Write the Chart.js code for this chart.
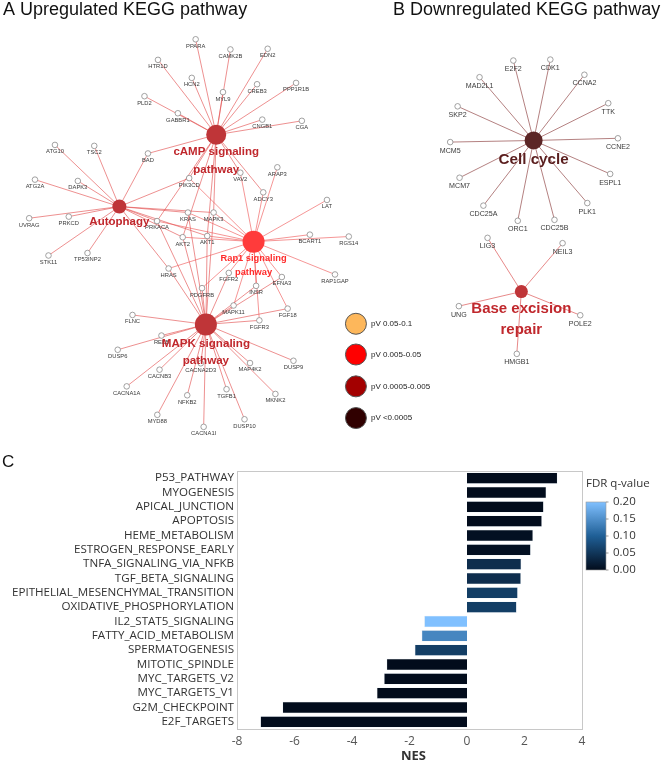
<!DOCTYPE html>
<html>
<head>
<meta charset="utf-8">
<script src="https://cdn.jsdelivr.net/npm/chart.js@4.4.1/dist/chart.umd.min.js"></script>
<style>
  body { margin: 0; background: #fff; }
  #wrap { position: relative; width: 669px; height: 762px; }
  #netCanvas { position: absolute; left: 0; top: 0; }
  #barCanvas { position: absolute; left: 0; top: 445px; }
</style>
</head>
<body>
<div id="wrap">
  <canvas id="netCanvas" width="669" height="445"></canvas>
  <canvas id="barCanvas" width="669" height="317"></canvas>
</div>
<script>
// ---- network layout (panel A, upregulated) ----
const upGenes = ['PPARA','CAMK2B','EDN2','HTR1D','HCN2','MYL9','CREB3','PPP1R1B','PLD2','GABBR1','CNGB1','CGA',
  'ATG10','TSC2','BAD','ARAP3','VAV2','ATG2A','DAPK3','PIK3CD','ADCY3','LAT','KRAS','MAPK3','UVRAG','PRKCD','PRKACA',
  'AKT2','AKT1','BCART1','RGS14','STK11','TP53INP2','HRAS','FGFR2','EFNA3','RAP1GAP','PDGFRB','INSR',
  'MAPK11','FGF18','FGFR3','FLNC','RELB','DUSP6','CACNB3','CACNA2D3','MAP4K2','DUSP9','CACNA1A','NFKB2','TGFB1',
  'MKNK2','MYD88','DUSP10','CACNA1I'];
const upX = [190.7,226.7,265.3,151.7,186.7,219,254.3,294.7,137.7,172.3,259.7,300.7,
  45,85.7,141.3,275.3,237,24.3,68.7,184,260.7,326.7,182.7,209.3,18.3,59.3,150.7,
  177.3,202.7,309,349.3,38.3,78.7,162.7,225,280,335,197.3,253.3,
  230,286,256.7,125.3,155.3,110,153.3,196,247,292,119.3,182,222.7,
  273.3,151,241.3,199];
const upY = [29.3,40,39.3,51,70,85,76.7,75.3,89.3,107.3,114,115.3,
  140.7,141.7,149.7,164.3,170,177.3,178.7,175.7,190.7,198.7,212,212,218,216.3,221,
  238,236.7,235.3,237.3,257.3,254.7,271,275.7,280,277.3,291.7,289.3,
  310,313.3,325.7,320,341.7,356.7,377.7,371,370.7,368.3,395.3,404.7,398.3,
  403.3,425.3,430,438];

// ---- network layout (panel B, downregulated) ----
const downGenes = ['E2F2','CDK1','MAD2L1','CCNA2','SKP2','TTK','MCM5','CCNE2','MCM7','ESPL1','CDC25A','PLK1','ORC1','CDC25B',
  'LIG3','NEIL3','UNG','POLE2','HMGB1'];
const downX = [519.7,558,484.7,593.3,462,618,454.3,628,464,620,488.7,596.3,524.3,562.3,
  493,570.7,463.3,589,523.3];
const downY = [51.7,50.7,69.3,66.7,100,96.7,137.7,133.7,175.3,171.3,204.7,202,220.7,219.7,
  238.7,244.3,310.7,320.3,361];

// ---- pathway hubs ----
const hubNames = ['cAMP signaling|pathway','Autophagy','Rap1 signaling|pathway','MAPK signaling|pathway','Cell cycle','Base excision|repair'];
const hubX = [212, 111.7, 250.7, 201.3, 540.7, 528];
const hubY = [130, 205.7, 242.7, 330, 136, 295.3];
const hubPvalueClass = [2, 2, 1, 2, 3, 2];
const hubMembers = [
  ['PPARA','CAMK2B','EDN2','HTR1D','HCN2','MYL9','CREB3','PPP1R1B','PLD2','GABBR1','CNGB1','CGA','BAD','VAV2','ADCY3','PIK3CD','MAPK3','AKT1','AKT2','PRKACA'],
  ['ATG10','TSC2','BAD','ATG2A','DAPK3','UVRAG','PRKCD','STK11','TP53INP2','PIK3CD','KRAS','MAPK3','PRKACA','AKT1','AKT2','HRAS'],
  ['LAT','BCART1','RGS14','RAP1GAP','EFNA3','INSR','FGFR2','FGFR3','FGF18','PDGFRB','HRAS','KRAS','AKT1','AKT2','MAPK3','MAPK11','PIK3CD','ADCY3','VAV2','ARAP3','PRKACA'],
  ['FLNC','RELB','DUSP6','CACNB3','CACNA2D3','MAP4K2','DUSP9','CACNA1A','NFKB2','TGFB1','MKNK2','MYD88','DUSP10','CACNA1I','MAPK11','FGF18','FGFR3','FGFR2','INSR','EFNA3','PDGFRB','HRAS','KRAS','MAPK3','AKT1','AKT2','PRKACA'],
  ['E2F2','CDK1','MAD2L1','CCNA2','SKP2','TTK','MCM5','CCNE2','MCM7','ESPL1','CDC25A','PLK1','ORC1','CDC25B'],
  ['LIG3','NEIL3','UNG','POLE2','HMGB1']
];

// ---- p-value legend ----
const pvLabels = ['pV 0.05-0.1', 'pV 0.005-0.05', 'pV 0.0005-0.005', 'pV <0.0005'];
const pvColors = ['#fdb75b', '#ff0000', '#a30000', '#300000'];
const legendX = [356.7, 356.7, 356.7, 356.7];
const legendY = [329.3, 361.7, 395.3, 428.7];

// ---- panel C data ----
const categories = ['P53_PATHWAY','MYOGENESIS','APICAL_JUNCTION','APOPTOSIS','HEME_METABOLISM','ESTROGEN_RESPONSE_EARLY',
  'TNFA_SIGNALING_VIA_NFKB','TGF_BETA_SIGNALING','EPITHELIAL_MESENCHYMAL_TRANSITION','OXIDATIVE_PHOSPHORYLATION',
  'IL2_STAT5_SIGNALING','FATTY_ACID_METABOLISM','SPERMATOGENESIS','MITOTIC_SPINDLE','MYC_TARGETS_V2','MYC_TARGETS_V1',
  'G2M_CHECKPOINT','E2F_TARGETS'];
const nes = [3.15, 2.76, 2.67, 2.61, 2.30, 2.22, 1.89, 1.88, 1.77, 1.73, -1.49, -1.58, -1.82, -2.80, -2.89, -3.14, -6.42, -7.19];
const fdr = [0, 0, 0, 0, 0.005, 0.005, 0.04, 0.04, 0.06, 0.06, 0.2, 0.14, 0.06, 0, 0, 0, 0, 0];
const fdrTicks = [0.20, 0.15, 0.10, 0.05, 0.00];

// styles
const hubRadius = [10, 7, 11, 11, 9, 6.5];
const hubLabelColor = ['#c0282d', '#c0282d', '#ff2b2b', '#c0282d', '#5a1e1e', '#c0282d'];
const hubFont = [11.5, 11.5, 9.3, 11.6, 15.2, 15];
const hubLabelDy = [[17, 35], [15], [16.6, 30.6], [19, 36], [19.7], [17, 38]];
const edgeColor = ['rgba(226,80,80,0.8)', 'rgba(226,80,80,0.8)', 'rgba(240,90,90,0.8)', 'rgba(226,80,80,0.8)', 'rgba(150,80,80,0.9)', 'rgba(220,80,80,0.85)'];

function lerp(a, b, t) { return Math.round(a + (b - a) * t); }
function hex(c) { return [parseInt(c.slice(1, 3), 16), parseInt(c.slice(3, 5), 16), parseInt(c.slice(5, 7), 16)]; }
const fdrStops = [[0, '#020c1c'], [0.1, '#1f5f96'], [0.2, '#80c0ff']];
function fdrColor(v) {
  for (let i = 0; i < fdrStops.length - 1; i++) {
    const [v0, c0] = fdrStops[i], [v1, c1] = fdrStops[i + 1];
    if (v <= v1) {
      const t = (v - v0) / (v1 - v0), a = hex(c0), b = hex(c1);
      return 'rgb(' + lerp(a[0], b[0], t) + ',' + lerp(a[1], b[1], t) + ',' + lerp(a[2], b[2], t) + ')';
    }
  }
  return fdrStops[fdrStops.length - 1][1];
}

function locate(name) {
  let i = upGenes.indexOf(name);
  if (i >= 0) return { x: upX[i], y: upY[i] };
  i = downGenes.indexOf(name);
  return { x: downX[i], y: downY[i] };
}

function drawAll() {
  // ---------- network chart ----------
  const datasets = [];
  hubMembers.forEach((members, h) => {
    members.forEach(g => {
      const p = locate(g);
      datasets.push({
        type: 'scatter', data: [{ x: hubX[h], y: hubY[h] }, p], showLine: true,
        borderColor: edgeColor[h], borderWidth: 0.8, pointRadius: 0, order: 10
      });
    });
  });
  datasets.push({
    data: upGenes.map((g, i) => ({ x: upX[i], y: upY[i] })).concat(downGenes.map((g, i) => ({ x: downX[i], y: downY[i] }))),
    pointRadius: 2.8, pointBackgroundColor: '#fff', pointBorderColor: '#8a8a8a', pointBorderWidth: 0.8, order: 2
  });
  datasets.push({
    data: hubNames.map((n, i) => ({ x: hubX[i], y: hubY[i] })),
    pointRadius: hubRadius, pointBackgroundColor: hubPvalueClass.map(c => ['#fdb75b', '#ff3b3b', '#bf3538', '#5c2626'][c]),
    pointBorderWidth: 0, order: 1
  });
  datasets.push({
    data: pvLabels.map((l, i) => ({ x: legendX[i], y: legendY[i] })),
    pointRadius: 10.5, pointBackgroundColor: pvColors, pointBorderColor: '#555', pointBorderWidth: 1, order: 1
  });

  const netText = {
    id: 'netText',
    afterDatasetsDraw(chart) {
      const { ctx, scales: { x, y } } = chart;
      ctx.save();
      ctx.textAlign = 'center';
      ctx.textBaseline = 'middle';
      ctx.fillStyle = '#3a3a3a';
      ctx.font = '5.8px "Liberation Sans", Arial, sans-serif';
      upGenes.forEach((g, i) => ctx.fillText(g, x.getPixelForValue(upX[i]), y.getPixelForValue(upY[i]) + 6.8));
      ctx.font = '7.1px "Liberation Sans", Arial, sans-serif';
      downGenes.forEach((g, i) => ctx.fillText(g, x.getPixelForValue(downX[i]), y.getPixelForValue(downY[i]) + 8.6));
      hubNames.forEach((n, i) => {
        ctx.font = 'bold ' + hubFont[i] + 'px "Liberation Sans", Arial, sans-serif';
        ctx.fillStyle = hubLabelColor[i];
        n.split('|').forEach((line, k) => ctx.fillText(line, x.getPixelForValue(hubX[i]), y.getPixelForValue(hubY[i]) + hubLabelDy[i][k]));
      });
      ctx.textAlign = 'left';
      ctx.fillStyle = '#222';
      ctx.font = '8px "Liberation Sans", Arial, sans-serif';
      pvLabels.forEach((l, i) => ctx.fillText(l, x.getPixelForValue(legendX[i]) + 15, y.getPixelForValue(legendY[i])));
      ctx.textBaseline = 'alphabetic';
      ctx.fillStyle = '#111';
      ctx.font = '18px "Liberation Sans", Arial, sans-serif';
      ctx.fillText('A Upregulated KEGG pathway', 3, 15);
      ctx.fillText('B Downregulated KEGG pathway', 393, 15);
      ctx.restore();
    }
  };

  new Chart(document.getElementById('netCanvas'), {
    type: 'scatter',
    data: { datasets },
    options: {
      responsive: false,
      animation: false,
      layout: { padding: 0 },
      plugins: { legend: { display: false }, tooltip: { enabled: false } },
      scales: {
        x: { type: 'linear', min: 0, max: 669, display: false },
        y: { type: 'linear', min: 0, max: 445, reverse: true, display: false }
      }
    },
    plugins: [netText]
  });

  // ---------- NES bar chart ----------
  const frameAndBar = {
    id: 'frameAndBar',
    afterDraw(chart) {
      const { ctx, chartArea: a } = chart;
      ctx.save();
      ctx.strokeStyle = '#c8c8c8';
      ctx.lineWidth = 1;
      ctx.strokeRect(a.left + 0.5, a.top + 0.5, a.right - a.left, a.bottom - a.top);
      // colour bar
      const bx = 586, bw = 20, top = 57, bottom = 125;
      const g = ctx.createLinearGradient(0, bottom, 0, top);
      fdrStops.forEach(s => g.addColorStop(s[0] / 0.2, s[1]));
      ctx.fillStyle = g;
      ctx.fillRect(bx, top, bw, bottom - top);
      ctx.strokeStyle = '#999';
      ctx.lineWidth = 0.6;
      ctx.strokeRect(bx, top, bw, bottom - top);
      ctx.fillStyle = '#333';
      ctx.font = '11.5px "Open Sans", sans-serif';
      ctx.textAlign = 'left';
      ctx.textBaseline = 'middle';
      ctx.fillText('FDR q-value', 586, 39);
      fdrTicks.forEach(t => {
        const ty = bottom - (t / 0.2) * (bottom - top);
        ctx.strokeStyle = '#555';
        ctx.beginPath(); ctx.moveTo(bx + bw, ty); ctx.lineTo(bx + bw + 2.5, ty); ctx.stroke();
        ctx.fillText(t.toFixed(2), 613, ty);
      });
      // axis title
      ctx.textAlign = 'center';
      ctx.font = 'bold 13px "Open Sans", sans-serif';
      ctx.fillStyle = '#333';
      ctx.fillText('NES', (a.left + a.right) / 2 + 4, 311);
      ctx.textAlign = 'left';
      ctx.font = '17px "Liberation Sans", Arial, sans-serif';
      ctx.fillStyle = '#111';
      ctx.fillText('C', 2, 17);
      ctx.restore();
    }
  };

  new Chart(document.getElementById('barCanvas'), {
    type: 'bar',
    data: {
      labels: categories,
      datasets: [{
        data: nes,
        backgroundColor: fdr.map(fdrColor),
        borderColor: 'rgba(225,232,240,0.9)',
        borderWidth: 0.6,
        barPercentage: 0.8,
        categoryPercentage: 1
      }]
    },
    options: {
      indexAxis: 'y',
      responsive: false,
      animation: false,
      layout: { padding: { left: 0, right: 87, top: 26, bottom: 0 } },
      plugins: { legend: { display: false }, tooltip: { enabled: false } },
      scales: {
        x: {
          min: -8, max: 4,
          ticks: { stepSize: 2, color: '#555', font: { family: 'Open Sans', size: 12 }, padding: 5 },
          grid: { display: false, drawTicks: false },
          border: { display: false },
          afterFit(s) { s.height = 33; }
        },
        y: {
          ticks: { color: '#333', font: { family: 'Open Sans', size: 11.6 }, autoSkip: false, padding: 3 },
          grid: { display: false, drawTicks: false },
          border: { display: false },
          afterFit(s) { s.width = 237; }
        }
      }
    },
    plugins: [frameAndBar]
  });
}

Promise.all([
  document.fonts.load('12px "Open Sans"'),
  document.fonts.load('bold 12px "Open Sans"'),
  document.fonts.load('12px "Liberation Sans"'),
  document.fonts.load('bold 12px "Liberation Sans"')
]).then(drawAll, drawAll);
</script>
</body>
</html>
